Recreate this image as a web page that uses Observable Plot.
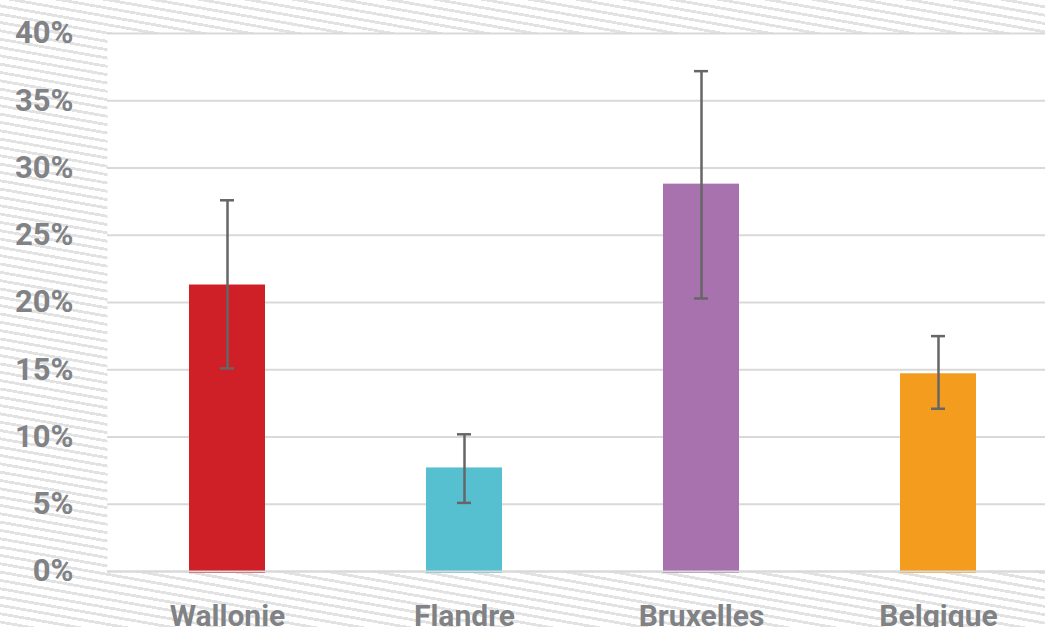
<!DOCTYPE html>
<html>
<head>
<meta charset="utf-8">
<script src="https://cdn.jsdelivr.net/npm/d3@7"></script>
<script src="https://cdn.jsdelivr.net/npm/@observablehq/plot@0.6"></script>
<style>
  html, body { margin: 0; padding: 0; }
  #wrap {
    width: 1045px; height: 627px; overflow: hidden; position: relative;
    background: repeating-linear-gradient(190deg, #ffffff 0px, #ffffff 5.4px, #e2e2e2 5.4px, #e2e2e2 8.2px);
  }
  #wrap svg { display: block; max-width: none !important; }
</style>
</head>
<body>
<div id="wrap"></div>
<script>
const regions = ["Wallonie", "Flandre", "Bruxelles", "Belgique"];
const values = [21.3, 7.7, 28.8, 14.7];
const lower = [15.1, 5.1, 20.3, 12.1];
const upper = [27.6, 10.2, 37.2, 17.5];
const colors = ["#cf2027", "#56c0d0", "#a872ae", "#f39c1e"];
const yTicks = [0, 5, 10, 15, 20, 25, 30, 35, 40];

const data = regions.map((r, i) => ({region: r, value: values[i], lo: lower[i], hi: upper[i]}));

const chart = Plot.plot({
  width: 1058,
  height: 627,
  marginLeft: 107,
  marginRight: 0,
  marginTop: 33,
  marginBottom: 56,
  style: {background: "transparent", overflow: "visible"},
  x: {domain: regions, paddingInner: 0.68, paddingOuter: 0.34, label: null},
  y: {domain: [0, 40], label: null},
  color: {domain: regions, range: colors},
  marks: [
    Plot.frame({fill: "white", stroke: null}),
    Plot.ruleY(yTicks, {stroke: "#d9d9d9", strokeWidth: 2}),
    Plot.barY(data, {x: "region", y: "value", fill: "region", insetBottom: -2}),
    Plot.ruleY([0], {stroke: "#d9d9d9", strokeWidth: 2}),
    Plot.ruleX(data, {x: "region", y1: "lo", y2: "hi", stroke: "#666666", strokeWidth: 2.5}),
    Plot.tickY(data, {x: "region", y: "lo", stroke: "#666666", strokeWidth: 2.5, insetLeft: 31, insetRight: 31}),
    Plot.tickY(data, {x: "region", y: "hi", stroke: "#666666", strokeWidth: 2.5, insetLeft: 31, insetRight: 31}),
    Plot.axisY(yTicks, {tickSize: 0, tickPadding: 0, dx: -34, tickFormat: d => d + "%", fontSize: 31, fontWeight: 700, fill: "#808285", fontFamily: "Roboto", textAnchor: "end"}),
    Plot.axisX(regions, {tickSize: 0, tickPadding: 0, dy: 33, fontSize: 30, fontWeight: 700, fill: "#808285", fontFamily: "Roboto"})
  ]
});
document.getElementById("wrap").appendChild(chart);
</script>
</body>
</html>
